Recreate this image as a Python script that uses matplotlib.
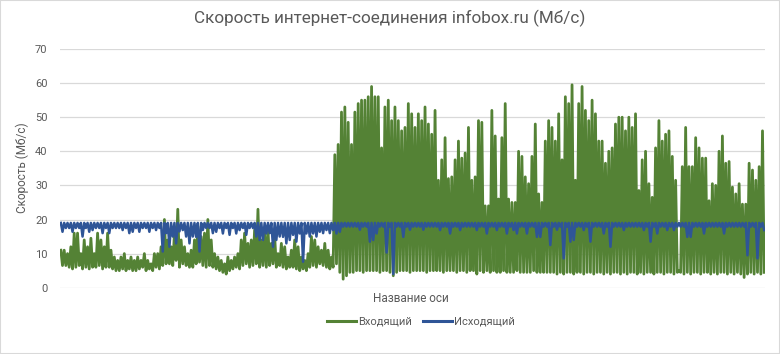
import numpy as np
import matplotlib
matplotlib.use("Agg")
import matplotlib.pyplot as plt
from matplotlib.lines import Line2D
from matplotlib.patches import Rectangle

plt.rcParams['font.family'] = ['Roboto', 'DejaVu Sans']

title = 'Скорость интернет-соединения infobox.ru (Мб/с)'
y_label = 'Скорость (Мб/с)'
x_label = 'Название оси'
series_names = ['Входящий', 'Исходящий']
y_ticks = [0, 10, 20, 30, 40, 50, 60, 70]

# Incoming (green): upper and lower swings of each sample pair
incoming_high = [
    11, 11, 10, 12, 16, 16, 10, 14, 12, 14.5,
    10, 16, 14, 12, 16, 11, 9, 8, 9, 10,
    8, 9, 8, 9, 8, 10, 8, 7, 10, 10,
    12, 20, 14, 12, 16, 23, 14, 12, 10, 11,
    14, 18, 15, 16, 20, 14, 10, 9, 8, 7,
    9, 8, 9, 10, 14, 16, 13, 14, 17, 23,
    14, 16, 17, 13, 15, 10, 13, 12, 9, 11,
    14, 12, 9, 8, 10, 15, 14, 12, 11, 13,
    11, 9,
    39,
    42, 51.5, 53, 48.5, 42, 51.5, 54, 55, 55, 56,
    59, 56, 56, 41, 53, 55, 49, 53, 49, 46,
    47, 54, 51, 47, 51, 49, 53, 48, 45, 52,
    31.5, 37.5, 44, 32, 32.5, 37.5, 43, 38, 39.5, 47,
    31.5, 32.5, 49, 48.5, 24, 24, 52, 44.5, 26, 44,
    54, 26, 25, 25, 40, 38.5, 32.5, 30.5, 38.5, 48,
    27.5, 25, 43, 49, 47, 43, 51, 37.5, 56, 54,
    59.5, 31.5, 54, 59, 52, 49, 55, 51, 43, 43,
    36.5, 40, 41, 48, 50, 50, 46, 50, 47, 51,
    28.5, 37.5, 40, 30.5, 26.5, 41, 49, 43, 45, 46,
    38.5, 31.5, 5, 35.5, 47, 35.5, 35.5, 44, 41, 38,
    38, 25.5, 30.5, 30, 40, 44.5, 36.5, 37, 29.5, 27.5,
    30.5, 24.5, 24.5, 36.5, 34.5, 31.5, 35.5, 46,
]
incoming_low = [
    6.5, 6.5, 6, 5.5, 6, 6.5, 5.5, 6, 5.5, 6,
    6, 6.5, 5.5, 6, 6, 5.5, 5, 5, 5.5, 5,
    5.5, 5, 5, 5.5, 6, 5, 5.5, 5, 6, 5.5,
    6.5, 7, 7, 6.5, 8, 6, 7, 6.5, 6, 6,
    7, 7.5, 6.5, 6, 6.5, 6, 5.5, 5, 4.5, 4,
    5, 5.5, 6, 5.5, 6.5, 7, 6, 6.5, 7, 6,
    6.5, 6, 6.5, 7, 6, 6.5, 6, 5.5, 6, 6,
    5.5, 5, 5.5, 5, 6, 6.5, 6, 7, 6.5, 6,
    5.5, 6,
    7,
    4.5, 2.5, 3.5, 4.5, 4.5, 5, 5, 4.5, 5, 5,
    5, 5, 4.5, 5, 5, 4.5, 3.5, 4.5, 5, 5,
    5, 4.5, 5, 5, 5, 5, 4.5, 5, 5, 5,
    5, 4.5, 5, 5, 5, 4.5, 5, 5, 4.5, 5,
    5, 4, 5, 4.5, 5, 4.5, 5, 4.5, 4.5, 5,
    4.5, 4.5, 4.5, 5, 4.5, 4.5, 4.5, 4.5, 5, 4.5,
    4.5, 4.5, 4.5, 4.5, 4.5, 4, 4.5, 4, 4.5, 4.5,
    4, 4.5, 4.5, 4, 4.5, 4.5, 4, 4.5, 4.5, 4,
    4.5, 4, 4.5, 4.5, 4, 4.5, 4, 4.5, 4.5, 4,
    4.5, 4, 4.5, 4.5, 4, 4.5, 4.5, 4, 4.5, 4.5,
    4, 4.5, 4.5, 4, 4.5, 4, 4.5, 4.5, 4, 4.5,
    4.5, 4, 4.5, 4, 4.5, 4.5, 4, 4.5, 4, 4.5,
    4, 3, 4, 4.5, 4, 4.5, 4, 4.5,
]

# Outgoing (blue): upper and lower swings of each sample pair
outgoing_high = [
    19.0, 19.0, 19.0, 19.0, 19.0, 19.0, 19.0, 19.0, 19.0, 19.0,
    19.0, 19.0, 19.0, 19.0, 19.0, 19.0, 19.0, 19.0, 19.0, 19.0,
    19.0, 19.0, 19.0, 19.0, 19.0, 19.0, 19.0, 19.0, 19.0, 19.0,
    19.0, 19.0, 19.0, 19.0, 19.0, 19.0, 19.0, 19.0, 19.0, 19.0,
    19.0, 19.0, 19.0, 19.0, 19.0, 19.0, 19.0, 19.0, 19.0, 19.0,
    19.0, 19.0, 19.0, 19.0, 19.0, 19.0, 19.0, 19.0, 19.0, 19.0,
    19.0, 19.0, 19.0, 19.0, 19.0, 19.0, 19.0, 19.0, 19.0, 19.0,
    19.0, 19.0, 19.0, 19.0, 19.0, 19.0, 19.0, 19.0, 19.0, 19.0,
    19.0, 19.0,
    19.0,
    19.0, 19.0, 19.0, 19.0, 19.0, 19.0, 19.0, 19.0, 19.0, 19.0,
    19.0, 19.0, 19.0, 19.0, 19.0, 19.0, 19.0, 19.0, 19.0, 19.0,
    19.0, 19.0, 19.0, 19.0, 19.0, 19.0, 19.0, 19.0, 19.0, 19.0,
    19.0, 19.0, 19.0, 19.0, 19.0, 19.0, 19.0, 19.0, 19.0, 19.0,
    19.0, 19.0, 19.0, 19.0, 19.0, 19.0, 19.0, 19.0, 19.0, 19.0,
    19.0, 19.0, 19.0, 19.0, 19.0, 19.0, 19.0, 19.0, 19.0, 19.0,
    19.0, 19.0, 19.0, 19.0, 19.0, 19.0, 19.0, 19.0, 19.0, 19.0,
    19.0, 19.0, 19.0, 19.0, 19.0, 19.0, 19.0, 19.0, 19.0, 19.0,
    19.0, 19.0, 19.0, 19.0, 19.0, 19.0, 19.0, 19.0, 19.0, 19.0,
    19.0, 19.0, 19.0, 19.0, 19.0, 19.0, 19.0, 19.0, 19.0, 19.0,
    19.0, 19.0, 19.0, 19.0, 19.0, 19.0, 19.0, 19.0, 19.0, 19.0,
    19.0, 19.0, 19.0, 19.0, 19.0, 19.0, 19.0, 19.0, 19.0, 19.0,
    19.0, 19.0, 19.0, 19.0, 19.0, 19.0, 19.0, 19.0,
]
outgoing_low = [
    16.4, 17.5, 17.5, 16.4, 17.5, 17.5, 15, 17.5, 16.4, 16.9,
    17.5, 17.5, 16, 17.5, 16, 17.5, 17.5, 17.5, 16.9, 17.5,
    16, 16.4, 17.5, 16.4, 17.5, 17.5, 16.4, 17.5, 16.9, 17.5,
    10.6, 16, 12, 15, 13, 16.5, 16.9, 15, 13, 15,
    14.9, 10.6, 16.9, 17.5, 17.5, 16, 16.4, 17.5, 15.9, 17.5,
    15.5, 17.5, 15.9, 16.9, 17.5, 15.5, 17.5, 17.5, 15, 14,
    14, 15.9, 16, 12, 14, 15, 14.9, 13, 14, 15.5,
    13.5, 15.9, 7.6, 15.9, 15, 15.9, 15, 16.4, 16, 16.9,
    16, 16.9,
    15.9,
    16.4, 17.9, 17.9, 17.9, 17.9, 17.9, 17, 17.9, 17.9, 13.5,
    14, 15.9, 17.9, 17.9, 10.3, 17.9, 4, 17.9, 17.9, 14.9,
    17.9, 17, 17.9, 17.9, 17.9, 17, 17.9, 17.9, 17.9, 17.9,
    16.9, 17.9, 17.9, 15.9, 17.9, 17.9, 16.9, 17.9, 17.9, 17.9,
    17.9, 16.9, 17.9, 17.9, 15.9, 17.9, 17.9, 16.9, 17.9, 17.9,
    15.9, 17.9, 16.9, 15.9, 17.9, 17.9, 15.9, 17.9, 17.9, 14.9,
    14.9, 17.9, 17.9, 12.5, 17.9, 17, 17.9, 8.6, 17.9, 13.5,
    14, 17.9, 17.9, 16.9, 17.9, 13.5, 17.9, 17.9, 17.9, 15.9,
    17.9, 12, 17.9, 17.9, 17.9, 16.9, 17.9, 17.9, 17.9, 17.9,
    17.9, 16.9, 17.9, 13.5, 17.9, 15.9, 17.9, 17.9, 16.9, 17.9,
    16.9, 17.9, 17.9, 17.9, 14.9, 14.9, 17.9, 17.9, 17.9, 15.9,
    17.9, 17.9, 17.9, 17.9, 17.9, 15.9, 17.9, 17.9, 17.9, 17.9,
    17.9, 17.9, 9.5, 17.9, 17.9, 8.6, 17.9, 16.9,
]

green = '#548235'
blue = '#2F5597'
text_color = '#595959'
grid_color = '#D9D9D9'

incoming = np.column_stack([incoming_high, incoming_low]).ravel()
outgoing = np.column_stack([outgoing_high, outgoing_low]).ravel()
x = np.arange(len(incoming))

W, H = 780, 354
fig = plt.figure(figsize=(W / 100, H / 100), dpi=100)
ax = fig.add_axes([60 / W, (H - 287.7) / H, 705 / W, (287.7 - 49) / H])

ax.plot(x, incoming, color=green, lw=2.0, zorder=3, solid_joinstyle='round')
ax.plot(x, outgoing, color=blue, lw=1.8, zorder=4, solid_joinstyle='round')

ax.set_xlim(-0.5, len(x) - 0.5)
ax.set_ylim(0, 70)
ax.set_yticks(y_ticks)
ax.set_xticks([])
ax.yaxis.grid(True, color=grid_color, lw=0.9)
ax.set_axisbelow(True)
for s in ax.spines.values():
    s.set_visible(False)
ax.tick_params(axis='y', length=0, labelsize=8, labelcolor=text_color, pad=9)

fig.text(390 / W, 1 - 18 / H, title, ha='center', va='center', fontsize=12.3,
         color=text_color)
fig.text(22 / W, 1 - 168 / H, y_label, ha='center', va='center', rotation=90,
         fontsize=8.5, color=text_color)
fig.text(411 / W, 1 - 299 / H, x_label, ha='center', va='center',
         fontsize=8.5, color=text_color)

handles = [Line2D([], [], color=green, lw=2.2), Line2D([], [], color=blue, lw=2.2)]
fig.legend(handles, series_names, loc='center', bbox_to_anchor=(421 / W, 1 - 322 / H),
           ncol=2, frameon=False, fontsize=8, handlelength=2.6, handletextpad=0.2,
           columnspacing=1.0, labelcolor=text_color)

fig.patches.append(Rectangle((0, 0), 1, 1, transform=fig.transFigure, fill=False,
                             edgecolor='#D9D9D9', lw=1.5))

fig.savefig('out.png', dpi=100)
